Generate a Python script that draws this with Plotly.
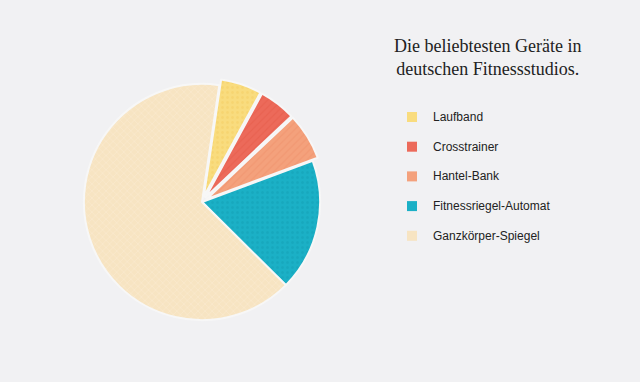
import plotly.graph_objects as go

labels = ["Laufband", "Crosstrainer", "Hantel-Bank", "Fitnessriegel-Automat", "Ganzkörper-Spiegel"]
values = [5.6, 5.0, 6.4, 18.1, 64.9]
colors = ["#F9DC7E", "#EC6A5A", "#F4A17C", "#1BB0C6", "#F7E4C2"]
pattern_fg = ["#F6D36E", "#E8604F", "#F09670", "#17A6BB", "#FAEBD0"]
pattern_shapes = [".", "/", "/", ".", "x"]
pulls = [0.05, 0.05, 0.05, 0.0, 0.0]
title_lines = ["Die beliebtesten Geräte in", "deutschen Fitnessstudios."]

W, H = 640, 382
bg = "#F1F1F3"

fig = go.Figure()
fig.add_trace(go.Pie(
    labels=labels, values=values, sort=False, direction="clockwise", rotation=8.4,
    pull=pulls, textinfo="none", hoverinfo="label+percent",
    marker=dict(colors=colors, line=dict(color="#F7F7F7", width=2),
                pattern=dict(shape=pattern_shapes, fgcolor=pattern_fg, fgopacity=0.8,
                             size=5, solidity=0.25, fillmode="overlay")),
    domain=dict(x=[78 / W, 326 / W], y=[(180 - 124) / H, (180 + 124) / H]),
    showlegend=False,
))

annotations = [dict(
    text="<br>".join(title_lines), x=487 / W, y=1 - 57 / H, xref="paper", yref="paper",
    showarrow=False, xanchor="center", yanchor="middle", align="center",
    font=dict(family="Liberation Serif, serif", size=18, color="#222222"),
)]
shapes = []
for i, (lab, col) in enumerate(zip(labels, colors)):
    yc = 117 + i * 29.7
    shapes.append(dict(type="rect", xref="paper", yref="paper",
                       x0=407 / W, x1=417 / W, y0=1 - (yc + 5) / H, y1=1 - (yc - 5) / H,
                       fillcolor=col, line=dict(width=0)))
    annotations.append(dict(text=lab, x=431 / W, y=1 - yc / H, xref="paper", yref="paper",
                            showarrow=False, xanchor="left", yanchor="middle",
                            font=dict(family="Liberation Sans, Arial, sans-serif", size=12, color="#222222")))

fig.update_layout(
    width=W, height=H, margin=dict(l=0, r=0, t=0, b=0),
    paper_bgcolor=bg, plot_bgcolor=bg,
    annotations=annotations, shapes=shapes,
)
fig.write_html("out.html", config={"displayModeBar": False},
               post_script="document.body.style.margin='0';document.body.style.background='%s';" % bg)
